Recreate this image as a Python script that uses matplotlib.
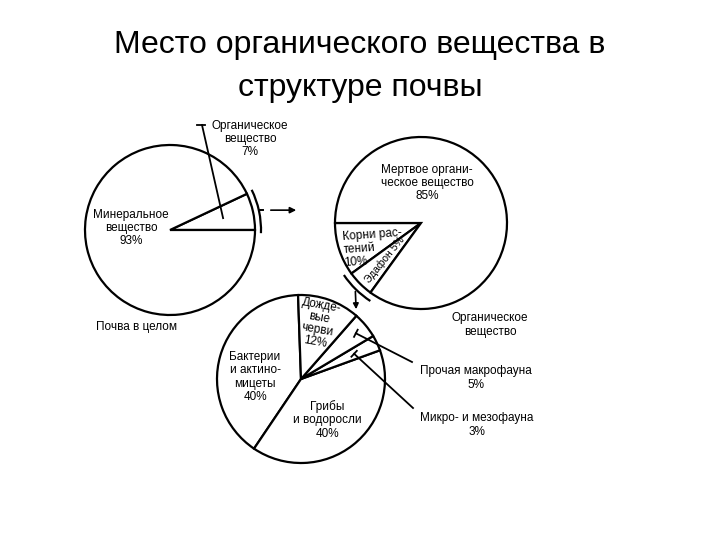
import numpy as np
import matplotlib.pyplot as plt
from matplotlib.patches import Arc

plt.rcParams['font.family'] = ['Liberation Sans', 'DejaVu Sans']

# Почва в целом
soil_labels = ['Органическое\nвещество\n7%', 'Минеральное\nвещество\n93%']
soil_values = [7, 93]

# Органическое вещество
org_labels = ['Корни рас-\nтений\n10%', 'Эдафон 5%', 'Мертвое органи-\nческое вещество\n85%']
org_values = [10, 5, 85]

# Эдафон
edaph_labels = ['Бактерии\nи актино-\nмицеты\n40%', 'Грибы\nи водоросли\n40%',
                'Микро- и мезофауна\n3%', 'Прочая макрофауна\n5%', 'Дожде-\nвые\nчерви\n12%']
edaph_values = [40, 40, 3, 5, 12]

W, H = 720, 540
fig = plt.figure(figsize=(7.2, 5.4), dpi=100)
ax = fig.add_axes([0, 0, 1, 1])

wp = dict(facecolor='white', edgecolor='black', linewidth=1.6)
c1, r1 = (170, 310), 85
c2, r2 = (421, 317), 86
c3, r3 = (301, 161), 84

w1, _ = ax.pie(soil_values, center=c1, radius=r1, startangle=0,
               counterclock=True, wedgeprops=wp)
w2, _ = ax.pie(org_values, center=c2, radius=r2, startangle=180,
               counterclock=True, wedgeprops=wp)
w3, _ = ax.pie(edaph_values, center=c3, radius=r3, startangle=92,
               counterclock=True, wedgeprops=wp)

ax.set_xlim(0, W)
ax.set_ylim(0, H)
ax.set_aspect('equal')
ax.axis('off')


def pt(c, r, ang):
    a = np.deg2rad(ang)
    return c[0] + r * np.cos(a), c[1] + r * np.sin(a)


def mid(w):
    return (w.theta1 + w.theta2) / 2


def leader(x0, y0, x1, y1):
    ax.plot([x0, x1], [y0, y1], color='black', lw=1.3)
    d = np.array([x1 - x0, y1 - y0])
    n = np.array([-d[1], d[0]]) / np.hypot(*d) * 4
    ax.plot([x0 - n[0], x0 + n[0]], [y0 - n[1], y0 + n[1]], color='black', lw=1.3)


fs = 8.5
kw = dict(fontsize=fs, ha='center', va='center', linespacing=1.15)

# заголовок
fig.text(0.5, 1 - 53 / H, 'Место органического вещества в', fontsize=23,
         ha='center', va='baseline')
fig.text(0.5, 1 - 96 / H, 'структуре почвы', fontsize=23,
         ha='center', va='baseline')

# --- круг 1
x0, y0 = pt(c1, 0.64 * r1, mid(w1[0]))
ax.plot([x0, 202], [y0, 415], color='black', lw=1.3)
ax.plot([197, 205], [415, 415], color='black', lw=1.3)
ax.text(250, 401, soil_labels[0], **kw)
ax.text(131, 312, soil_labels[1], **kw)
ax.text(137, 213, 'Почва в целом', fontsize=fs, ha='center', va='center')

ax.add_patch(Arc(c1, 2 * (r1 + 6), 2 * (r1 + 6), theta1=w1[0].theta1 - 2,
                 theta2=w1[0].theta2 + 1, color='black', lw=1.6))
bx, by = pt(c1, r1 + 6, mid(w1[0]))
ax.plot([bx, bx + 4], [by, by], color='black', lw=1.4)
ax.annotate('', xy=(299, by), xytext=(268, by),
            arrowprops=dict(arrowstyle='-|>', color='black', lw=1.2,
                            mutation_scale=9))

# --- круг 2
ax.text(427, 357, org_labels[2], **kw)
ax.text(342, 292, org_labels[0], fontsize=fs, ha='left', va='center',
        linespacing=1.1, rotation=4)
ex, ey = pt(c2, 0.60 * r2, mid(w2[1]))
ax.text(ex, ey, org_labels[1], fontsize=7.5, ha='center', va='center',
        rotation=mid(w2[1]) - 174)
ax.add_patch(Arc(c2, 2 * (r2 + 7), 2 * (r2 + 7), theta1=w2[1].theta1 - 2,
                 theta2=w2[1].theta2 + 3, color='black', lw=1.6))
bx, by = pt(c2, r2 + 7, mid(w2[1]))
ax.annotate('', xy=(bx + 1, 228), xytext=(bx, by),
            arrowprops=dict(arrowstyle='-|>', color='black', lw=1.2,
                            mutation_scale=8))

# --- круг 3
ax.text(318, 216, edaph_labels[4], fontsize=fs, ha='center', va='center',
        linespacing=1.05, rotation=-10)
ax.text(255, 163, edaph_labels[0], **kw)
ax.text(327, 120, edaph_labels[1], **kw)
ax.text(490, 215, 'Органическое\nвещество', **kw)
ax.text(476, 162, edaph_labels[3], **kw)
ax.text(477, 115, edaph_labels[2], **kw)

mx, my = pt(c3, 0.85 * r3, mid(w3[3]))
leader(mx, my, 412, 178)
sx, sy = pt(c3, 0.70 * r3, mid(w3[2]))
leader(sx, sy, 413, 132)

fig.savefig('out.png', dpi=100, facecolor='white')
